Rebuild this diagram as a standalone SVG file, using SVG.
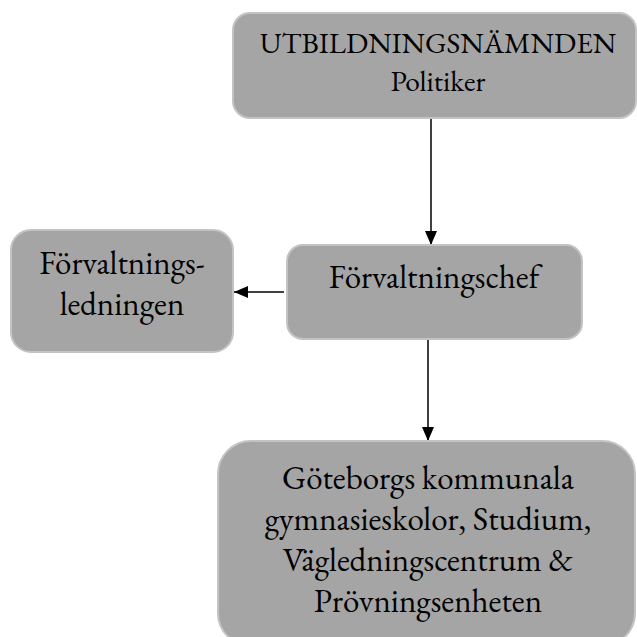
<svg xmlns="http://www.w3.org/2000/svg" width="637" height="637" viewBox="0 0 637 637">
<defs>
<style>
.box{fill:#a5a5a5;stroke:#c3c3c3;stroke-width:2}
.t{font-family:"EB Garamond","Liberation Serif","Times New Roman",serif;font-size:33px;fill:#000;text-anchor:middle}
.s{font-size:29.5px}
.c{stroke:#000;stroke-width:1.5;fill:none}
</style>
<marker id="ah" markerWidth="14" markerHeight="12" refX="14" refY="6" orient="auto" markerUnits="userSpaceOnUse">
<path d="M0,0 L14,6 L0,12 Z" fill="#000"/>
</marker>
</defs>
<rect width="637" height="637" fill="#fff"/>
<g id="connectors">
<line class="c" x1="431" y1="118" x2="431" y2="245" marker-end="url(#ah)"/>
<line class="c" x1="428" y1="339" x2="428" y2="441" marker-end="url(#ah)"/>
<line class="c" x1="284" y1="292" x2="234" y2="292" marker-end="url(#ah)"/>
</g>
<g id="utbildningsnamnden">
<rect class="box" x="233" y="13" width="403" height="105" rx="17" ry="17"/>
<text class="t s" x="438" y="53">UTBILDNINGSNÄMNDEN</text>
<text class="t s" x="438" y="91">Politiker</text>
</g>
<g id="forvaltningschef">
<rect class="box" x="287" y="245" width="295" height="94" rx="16" ry="16"/>
<text class="t" x="434" y="288">Förvaltningschef</text>
</g>
<g id="forvaltningsledningen">
<rect class="box" x="11" y="230" width="222" height="122" rx="20" ry="20"/>
<text class="t" x="122" y="274">Förvaltnings-</text>
<text class="t" x="122" y="315">ledningen</text>
</g>
<g id="goteborgs">
<rect class="box" x="218" y="441" width="417" height="205" rx="33" ry="33"/>
<text class="t" x="428" y="489">Göteborgs kommunala</text>
<text class="t" x="428" y="530">gymnasieskolor, Studium,</text>
<text class="t" x="428" y="571">Vägledningscentrum &amp;</text>
<text class="t" x="428" y="612">Prövningsenheten</text>
</g>
</svg>
